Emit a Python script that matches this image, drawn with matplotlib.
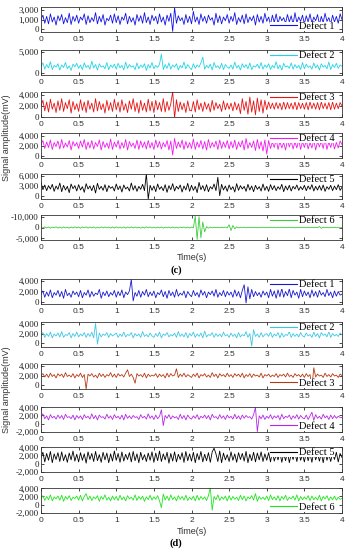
import numpy as np
import matplotlib
matplotlib.use("Agg")
import matplotlib.pyplot as plt

# Signal values, in hundreds of mV, 161 samples over 0-4 s
c_defect1 = [15, 22, 9, 20, 8, 24, 11, 19, 6, 21, 13, 23, 8, 18, 10, 25, 7, 20, 12, 22,
             9, 19, 14, 24, 7, 21, 10, 18, 12, 26, 8, 20, 11, 23, 6, 17, 13, 22, 9, 24,
             10, 21, 7, 19, 14, 25, 8, 20, 11, 18, 6, 23, 12, 21, 9, 26, 10, 19, 7, 22,
             13, 20, 8, 24, 11, 19, 6, 22, 12, 25, -4, 34, 9, 21, 13, 18, 7, 23, 10, 20,
             8, 28, 11, 19, 7, 24, 12, 20, 9, 22, 14, 18, 6, 25, 10, 21, 8, 19, 13, 23,
             9, 20, 12, 26, 7, 18, 11, 22, 8, 24, 10, 19, 13, 21, 6, 23, 11, 20, 9, 25,
             12, 19, 7, 22, 10, 24, 8, 20, 13, 18, 9, 23, 11, 21, 7, 26, 10, 19, 12, 22,
             8, 21, 11, 24, 9, 19, 13, 23, 7, 20, 10, 25, 12, 18, 8, 22, 11, 20, 9, 24, 15]
c_defect2 = [16, 24, 9, 20, 12, 27, 8, 18, 14, 22, 7, 19, 13, 25, 10, 17, 6, 21, 15, 23,
             11, 19, 8, 24, 13, 18, 9, 28, 12, 20, 7, 22, 14, 17, 10, 25, 8, 19, 13, 21,
             9, 23, 12, 18, 7, 26, 11, 20, 14, 17, 8, 24, 10, 19, 13, 22, 6, 20, 12, 25,
             10, 18, 13, 21, 45, 8, 20, 11, 24, 9, 19, 14, 22, 7, 18, 12, 26, 10, 20, 13,
             8, 22, 11, 19, 14, 24, 38, 9, 18, 12, 21, 7, 25, 13, 17, 10, 23, 8, 20, 14,
             11, 19, 9, 26, 12, 18, 7, 22, 13, 20, 10, 24, 8, 17, 14, 21, 11, 25, 9, 19,
             13, 22, 8, 18, 12, 27, 10, 19, 7, 23, 14, 17, 11, 24, 9, 20, 12, 18, 8, 25,
             10, 21, 13, 17, 9, 24, 12, 19, 7, 22, 14, 18, 10, 26, 8, 20, 13, 23, 11, 19, 16]
c_defect3 = [20, 30, 11, 27, 9, 32, 14, 25, 8, 29, 12, 33, 10, 26, 15, 31, 7, 28, 13, 24,
             10, 31, 12, 27, 8, 30, 14, 25, 9, 33, 11, 28, 13, 24, 7, 30, 12, 26, 10, 32,
             13, 27, 9, 31, 12, 24, 8, 29, 14, 33, 10, 26, 7, 30, 12, 25, 9, 32, 11, 28,
             8, 30, 13, 26, 10, 33, 9, 28, 12, 24, 46, -2, 31, 10, 27, 13, 25, 8, 29, 12,
             11, 28, 9, 31, 13, 25, 10, 27, 14, 24, 9, 30, 12, 26, 15, 23, 10, 29, 13, 25,
             14, 25, 11, 27, 13, 24, 6, 33, 12, 28, 5, 36, 9, 29, 4, 34, 10, 31, 7, 30,
             13, 27, 15, 25, 14, 26, 15, 25, 13, 27, 14, 26, 15, 25, 14, 27, 13, 26, 15, 25,
             14, 26, 13, 27, 15, 25, 14, 26, 13, 27, 15, 25, 14, 26, 13, 27, 14, 25, 15, 26, 20]
c_defect4 = [22, 30, 14, 27, 16, 31, 12, 26, 18, 29, 13, 32, 15, 25, 17, 30, 11, 28, 19, 26,
             14, 29, 17, 32, 12, 27, 15, 30, 13, 26, 18, 31, 11, 28, 16, 25, 14, 33, 12, 27,
             17, 30, 13, 26, 15, 32, 11, 28, 18, 25, 14, 31, 12, 29, 16, 27, 13, 30, 15, 26,
             12, 31, 16, 28, 13, 26, 17, 30, 11, 29, 1, 34, 14, 27, 16, 31, 12, 28, 15, 26,
             14, 33, 12, 27, 16, 30, 13, 28, 11, 32, 15, 26, 17, 29, 12, 31, 14, 27, 16, 30,
             13, 28, 15, 31, 12, 27, 17, 30, 11, 34, 14, 26, 16, 29, 10, 32, 13, 28, 9, 31,
             3, 30, 14, 27, 16, 33, 12, 28, 15, 26, 11, 31, 17, 29, 13, 27, 15, 32, 12, 28,
             16, 30, 13, 26, 15, 31, 11, 28, 17, 29, 14, 33, 12, 27, 16, 30, 13, 26, 15, 29, 22]
c_defect5 = [40, 18, 32, 15, 30, 20, 34, 13, 29, 19, 38, 12, 31, 17, 28, 9, 35, 21, 30, 14,
             33, 17, 27, 10, 36, 20, 29, 15, 31, 8, 37, 19, 28, 16, 33, 12, 30, 22, 27, 14,
             35, 18, 29, 11, 32, 20, 26, 14, 38, 17, 30, 13, 28, 19, 34, 15, 66, -10, 31, 16,
             29, 12, 35, 19, 27, 15, 33, 10, 30, 18, 36, 14, 28, 20, 32, 11, 29, 17, 37, 13,
             31, 16, 28, 9, 40, 18, 30, 14, 33, 12, 27, 20, 35, 15, 55, 0, 34, 17, 29, 13,
             32, 18, 27, 11, 36, 16, 30, 20, 28, 13, 34, 17, 29, 12, 31, 19, 27, 14, 35, 16,
             28, 13, 33, 18, 30, 15, 27, 19, 34, 12, 29, 17, 31, 14, 28, 20, 32, 16, 27, 18,
             31, 15, 29, 19, 33, 14, 28, 17, 30, 16, 32, 13, 27, 19, 31, 15, 29, 18, 33, 16, 25]
c_defect6 = [3, -5, 6, -4, 5, -6, 4, -3, 6, -5, 4, -6, 5, -4, 3, -6, 5, -5, 6, -3,
             4, -6, 5, -3, 6, -5, 4, -4, 5, -6, 3, -5, 6, -4, 5, -3, 4, -6, 5, -5,
             6, -4, 3, -5, 5, -6, 4, -3, 6, -5, 5, -4, 3, -6, 4, -5, 6, -3, 5, -4,
             3, -5, 4, -4, 5, -6, 3, -3, 4, -5, 5, -4, 3, -5, 4, -3, 5, -4, 3, -5,
             4, -3, 105, -110, 100, -95, 50, -40, 8, -6, 4, -3, 3, -2, 2, -3, 3, -2, 4, -3,
             25, -28, 18, -12, 6, -4, 3, -2, 2, -3, 2, -2, 3, -2, 2, -3, 2, -2, 3, -2,
             2, -2, 3, -2, 2, -3, 2, -2, 3, -2, 2, -2, 3, -2, 2, -3, 2, -2, 3, -2,
             2, -3, 2, -2, 3, -2, 2, -2, 9, -8, 3, -2, 2, -3, 2, -2, 3, -2, 2, -3, 0]

d_defect1 = [15, 21, 9, 19, 11, 23, 8, 18, 13, 22, 10, 20, 7, 24, 12, 17, 9, 21, 14, 19,
             10, 22, 8, 18, 13, 23, 9, 20, 11, 17, 14, 24, 7, 19, 12, 21, 10, 18, 13, 22,
             9, 20, 12, 23, 8, 19, 14, 21, 43, 2, 18, 11, 22, 9, 20, 13, 24, 10, 19, 12,
             21, 8, 18, 14, 23, 10, 20, 7, 22, 12, 19, 9, 24, 11, 17, 13, 21, 8, 20, 14,
             10, 22, 12, 18, 9, 23, 13, 20, 8, 19, 14, 21, 11, 24, 9, 18, 12, 22, 10, 20,
             13, 19, 9, 23, 11, 20, 8, 22, 33, -2, 29, 6, 24, 10, 20, 12, 18, 9, 21, 13,
             19, 8, 24, 11, 21, 7, 23, 10, 26, 9, 20, 12, 25, 8, 22, 13, 19, 7, 24, 10,
             21, 12, 19, 8, 23, 11, 20, 9, 22, 13, 18, 10, 24, 12, 19, 8, 21, 11, 20, 13, 15]
d_defect2 = [17, 22, 12, 20, 14, 23, 11, 19, 15, 21, 13, 24, 12, 18, 16, 22, 11, 20, 14, 23,
             13, 19, 15, 22, 12, 20, 14, 23, 11, 41, -2, 21, 13, 19, 16, 22, 12, 20, 15, 18,
             21, 12, 19, 14, 23, 13, 18, 16, 22, 11, 20, 15, 19, 12, 24, 14, 18, 13, 21, 15,
             12, 20, 14, 23, 11, 19, 16, 22, 13, 18, 15, 21, 12, 24, 14, 19, 13, 22, 11, 20,
             15, 23, 12, 19, 14, 21, 11, 25, 13, 18, 16, 22, 12, 20, 14, 19, 13, 23, 15, 18,
             12, 21, 14, 19, 11, 22, 13, 18, 15, 24, 12, 20, -6, 28, 14, 19, 12, 22, 13, 18,
             20, 14, 23, 12, 19, 15, 22, 11, 21, 13, 18, 16, 24, 12, 20, 14, 19, 13, 22, 15,
             13, 21, 15, 18, 12, 23, 14, 20, 11, 22, 16, 19, 13, 24, 12, 20, 15, 18, 14, 21, 17]
d_defect3 = [20, 24, 17, 23, 16, 25, 18, 22, 15, 24, 19, 23, 16, 26, 18, 21, 17, 24, 15, 22,
             18, 25, 16, 22, -8, 23, 19, 24, 17, 21, 15, 25, 18, 23, 16, 22, 19, 26, 17, 23,
             16, 24, 19, 22, 17, 25, 32, 18, 23, 16, 4, 24, 19, 22, 17, 25, 15, 23, 18, 21,
             19, 24, 16, 23, 18, 22, 15, 25, 17, 24, 19, 21, 34, 16, 23, 18, 25, 17, 22, 19,
             16, 23, 18, 25, 15, 22, 19, 24, 17, 21, 16, 26, 18, 23, 15, 24, 19, 22, 17, 25,
             18, 22, 16, 24, 19, 23, 17, 25, 15, 22, 18, 24, 16, 23, 19, 21, 17, 25, 15, 22,
             19, 23, 17, 21, 18, 24, 16, 22, 19, 23, 17, 25, 18, 21, 16, 24, 19, 22, 17, 23,
             16, 24, 18, 22, -6, 36, 17, 23, 19, 21, 16, 25, 18, 22, 17, 24, 19, 21, 16, 23, 20]
d_defect4 = [15, 24, 12, 19, 9, 22, 14, 18, 11, 21, 13, 20, 10, 23, 15, 17, 12, 21, 9, 20,
             13, 19, 10, 22, 14, 18, 11, 24, 12, 20, 9, 21, 15, 17, 11, 23, 13, 19, 10, 22,
             14, 18, 11, 21, 9, 23, 13, 19, 12, 20, 15, 17, 10, 22, 14, 18, 11, 24, 13, 19,
             10, 21, 12, 18, 34, -5, 20, 13, 22, 11, 19, 14, 17, 10, 23, 12, 20, 9, 21, 14,
             11, 19, 13, 22, 10, 18, 14, 21, 12, 20, 9, 23, 15, 17, 11, 22, 13, 19, 10, 21,
             14, 18, 11, 23, 12, 19, 10, 21, 13, 20, 15, 17, 11, 22, 40, -20, 19, 12, 21, 10,
             18, 13, 22, 11, 19, 14, 20, 9, 23, 12, 18, 15, 21, 10, 19, 13, 22, 11, 20, 14,
             12, 21, 10, 19, 28, 8, 22, 13, 18, 11, 23, 14, 19, 10, 21, 12, 20, 13, 18, 15, 15]
d_defect5 = [15, 28, 4, 25, 8, 30, 2, 24, 10, 27, 5, 29, 7, 22, 3, 26, 9, 31, 6, 23,
             4, 27, 8, 24, 1, 29, 10, 25, 5, 30, 7, 22, 3, 28, 9, 26, 2, 24, 6, 31,
             8, 25, 3, 29, 6, 23, 10, 27, 4, 30, 7, 24, 2, 28, 9, 22, 5, 26, 8, 29,
             3, 26, 7, 31, 5, 24, 9, 28, 1, 25, 6, 29, 4, 23, 10, 27, 3, 30, 7, 24,
             6, 28, 2, 25, 9, 30, 4, 23, 7, 27, 3, 29, 38, 24, 5, 31, 2, 26, 9, 22,
             5, 29, 8, 24, 3, 27, 10, 25, 6, 30, 2, 23, 7, 28, 4, 26, 9, 29, 5, 24,
             8, 27, 4, 30, 6, 23, 9, 28, 3, 25, 7, 29, 2, 24, 10, 27, 5, 31, 8, 22,
             4, 28, 7, 25, 3, 30, 9, 24, 6, 27, 2, 29, 8, 23, 5, 26, 10, 28, 4, 25, 15]
d_defect6 = [15, 22, 10, 20, 12, 24, 9, 19, 14, 21, 11, 23, 8, 20, 13, 22, 10, 18, 15, 21,
             11, 23, 9, 20, 27, 12, 21, 10, 19, 14, 22, 8, 20, 13, 24, 11, 18, 9, 21, 12,
             20, 10, 23, 12, 19, 9, 22, 14, 18, 11, 24, 10, 20, 13, 21, 8, 19, 12, 23, 11,
             19, 13, 22, 9, -8, 26, 11, 21, 10, 24, 12, 19, 9, 22, 13, 20, 11, 23, 10, 18,
             12, 21, 9, 23, 11, 20, 13, 19, 10, 22, 42, -14, 20, 12, 24, 10, 19, 13, 21, 9,
             22, 11, 20, 13, 18, 10, 23, 12, 21, 9, 19, 14, 22, 11, 27, 8, 20, 13, 18, 12,
             21, 10, 24, 12, 19, 11, 22, 9, 20, 13, 23, 10, 18, 14, 21, 11, 24, 9, 20, 12,
             19, 13, 22, 10, 21, 12, 18, 11, 23, 9, 20, 14, 22, 10, 19, 12, 21, 11, 18, 13, 15]

labels = ["Defect 1", "Defect 2", "Defect 3", "Defect 4", "Defect 5", "Defect 6"]
x_ticks = [0, 0.5, 1, 1.5, 2, 2.5, 3, 3.5, 4]
x_ticklabels = ["0", "0.5", "1", "1.5", "2", "2.5", "3", "3.5", "4"]

c_signals = [c_defect1, c_defect2, c_defect3, c_defect4, c_defect5, c_defect6]
d_signals = [d_defect1, d_defect2, d_defect3, d_defect4, d_defect5, d_defect6]

c_colors = ["#1414e6", "#22d4e8", "#e61414", "#f01cf0", "#000000", "#3ccc3c"]
d_colors = ["#1a1acc", "#3cc8e4", "#b43a14", "#b428e6", "#000000", "#1ee61e"]

c_ylims = [(-500, 3500), (-500, 5500), (0, 4500), (-500, 4500), (-1000, 6500), (-11500, 11500)]
c_yticks = [[0, 1500, 3000], [0, 5000], [0, 2000, 4000], [0, 2000, 4000], [0, 3000, 6000], [-10000, 0, 10000]]
c_yticklabels = [["0", "1,000", "3,000"], ["0", "5,000"], ["0", "2,000", "4,000"], ["0", "2,000", "4,000"],
                 ["0", "3,000", "6,000"], ["-5,000", "0", "-10,000"]]
c_legend_loc = ["lower right", "upper right", "upper right", "upper right", "upper right", "upper right"]

d_ylims = [(-400, 4400), (-800, 4400), (-800, 4400), (-2100, 4100), (-2100, 4100), (-2100, 4100)]
d_yticks = [[0, 2000, 4000]] * 3 + [[-2000, 0, 2000, 4000]] * 3
d_yticklabels = [["0", "2,000", "4,000"]] * 3 + [["-2,000", "0", "2,000", "4,000"]] * 3
d_legend_loc = ["upper right", "upper right", "lower right", "lower right", "upper right", "lower right"]

W, H = 350, 550
fig = plt.figure(figsize=(W / 100, H / 100), dpi=100)

c_tops = [7, 50, 92, 133, 174, 215]
d_tops = [279, 322, 364, 407, 447, 488]
ax_h = 25
left, right = 41, 342

def draw(tops, signals, colors, ylims, yticks, yticklabels, locs):
    for i in range(6):
        top = tops[i]
        ax = fig.add_axes([left / W, 1 - (top + ax_h) / H, (right - left) / W, ax_h / H])
        vals = np.array(signals[i]) * 100.0
        t = np.linspace(0, 4, len(vals))
        ax.plot(t, vals, color=colors[i], lw=0.6, label=labels[i])
        ax.set_xlim(0, 4)
        ax.set_ylim(*ylims[i])
        ax.set_xticks(x_ticks)
        ax.set_xticklabels(x_ticklabels, fontsize=6, family="Liberation Sans", color="#333333")
        ax.set_yticks(yticks[i])
        ax.set_yticklabels(yticklabels[i], fontsize=6.5, family="Liberation Serif", color="#222222")
        ax.tick_params(direction="in", length=2, width=0.5, top=True, right=True, pad=1.5)
        ax.tick_params(axis="x", pad=3)
        for s in ax.spines.values():
            s.set_linewidth(0.6)
            s.set_color("#333333")
        anchor_y = 1.0 if locs[i].startswith("upper") else 0.0
        leg = ax.legend(loc=locs[i], bbox_to_anchor=(1 - 6 / (right - left), anchor_y),
                        handlelength=2.6, handletextpad=0.2,
                        borderaxespad=0.1, borderpad=0.0, frameon=True, fancybox=False,
                        prop={"family": "Liberation Serif", "size": 7.5})
        leg.get_frame().set_facecolor("white")
        leg.get_frame().set_edgecolor("none")
        leg.get_frame().set_alpha(1.0)
        for ln in leg.get_lines():
            ln.set_linewidth(0.8)

draw(c_tops, c_signals, c_colors, c_ylims, c_yticks, c_yticklabels, c_legend_loc)
draw(d_tops, d_signals, d_colors, d_ylims, d_yticks, d_yticklabels, d_legend_loc)

fig.text(7 / W, 1 - 138 / H, "Signal amplitude(mV)", rotation=90, ha="center", va="center",
         fontsize=6.5, family="Liberation Sans", color="#333333")
fig.text(7 / W, 1 - 390 / H, "Signal amplitude(mV)", rotation=90, ha="center", va="center",
         fontsize=6.5, family="Liberation Sans", color="#333333")
fig.text(192 / W, 1 - 258 / H, "Time(s)", ha="center", va="center", fontsize=6.5,
         family="Liberation Sans", color="#333333")
fig.text(192 / W, 1 - 532 / H, "Time(s)", ha="center", va="center", fontsize=6.5,
         family="Liberation Sans", color="#333333")
fig.text(176 / W, 1 - 270 / H, "(c)", ha="center", va="center", fontsize=7.5,
         family="Liberation Serif", weight="bold")
fig.text(176 / W, 1 - 543 / H, "(d)", ha="center", va="center", fontsize=7.5,
         family="Liberation Serif", weight="bold")

fig.savefig("out.png", dpi=100)
